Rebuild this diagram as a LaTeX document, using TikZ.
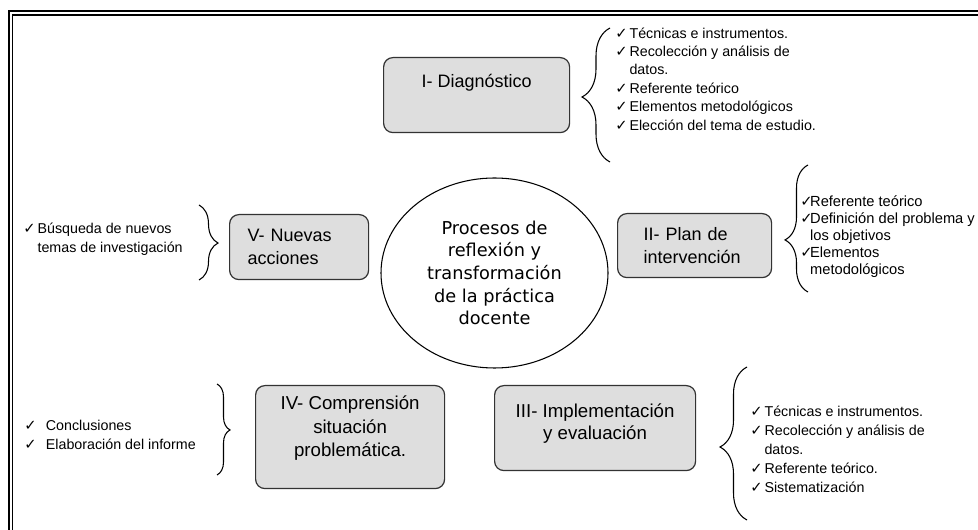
\documentclass[tikz,border=0pt]{standalone}
\usepackage{fontspec}
\setmainfont{Liberation Sans}
\newfontfamily\dejavu{DejaVu Sans}
\usetikzlibrary{shapes.geometric,decorations.pathreplacing}
\newcommand{\chk}[1][1.5pt]{{\dejavu\fontsize{11}{11}\selectfont ✓}\hspace{#1}}
\newcommand{\ind}[1][1.5pt]{\phantom{\chk[#1]}}
\tikzset{
  stage/.style={draw=black!80, line width=0.9pt, rounded corners=7pt, fill=black!13,
    inner sep=0pt, anchor=north west, font=\fontsize{13.5}{17}\selectfont},
  items/.style={anchor=west, align=left, inner sep=0pt, font=\fontsize{10.7}{13.9}\selectfont},
  curly/.style 2 args={decorate, decoration={brace, amplitude=#1, aspect=#2}, line width=0.8pt},
}

\begin{document}
\begin{tikzpicture}[x=0.75pt, y=-0.75pt]
\useasboundingbox (0,0) rectangle (978,530);
\clip (0,0) rectangle (978,530);
% double frame
\draw[line width=1.5pt] (9,11) rectangle (995,545);
\draw[line width=1pt] (12.5,15) rectangle (991,541);
% centre
\node [ellipse, draw, line width=0.8pt, minimum width=170.25pt, minimum height=142.5pt,
  inner sep=0pt, align=center, font=\dejavu\fontsize{13.3}{17}\selectfont]
  (centro) at (494.5,273) {Procesos de\\reflexión y\\transformación\\de la práctica\\docente};
% first stage
\node [stage, minimum width=139.5pt, text height=22.5pt, text depth=33.75pt]
  (diag) at (383,57) {I- Diagnóstico};
\coordinate (b1s) at (610,162);
\coordinate (b1e) at (610,28);
\draw [curly={21pt}{0.485}] (b1s) -- (b1e);
\node [items, font=\fontsize{10.7}{13.8}\selectfont] (ldiag) at (615,79)
  {\chk Técnicas e instrumentos.\\ \chk Recolección y análisis de\\ \ind datos.\\
   \chk Referente teórico\\ \chk Elementos metodológicos\\ \chk Elección del tema de estudio.};
% second stage
\node [stage, align=left, text width=76.5pt, inner xsep=19.5pt, minimum height=48pt]
  (plan) at (617,213) {II- Plan de\\intervención};
\coordinate (b2s) at (808,292);
\coordinate (b2e) at (808,165);
\draw [curly={17.25pt}{0.41}] (b2s) -- (b2e);
\node [items, font=\fontsize{11}{12.75}\selectfont] (lplan) at (800,237)
  {\chk[-1.8pt]Referente teórico\\ \chk[-1.8pt]Definición del problema y\\ \ind[-1.8pt]los objetivos\\
   \chk[-1.8pt]Elementos\\ \ind[-1.8pt]metodológicos};
% third stage
\node [stage, align=center, minimum width=150.75pt, text height=40.5pt, text depth=23.25pt,
  font=\fontsize{14}{16.5}\selectfont] (impl) at (494,385) {III- Implementación\\y evaluación};
\coordinate (b3s) at (747,520);
\coordinate (b3e) at (747,367);
\draw [curly={20.25pt}{0.477}] (b3s) -- (b3e);
\node [items, font=\fontsize{10.7}{14.25}\selectfont] (limpl) at (750,449)
  {\chk Técnicas e instrumentos.\\ \chk Recolección y análisis de\\ \ind datos.\\
   \chk Referente teórico.\\ \chk Sistematización};
% fourth stage
\node [stage, align=center, minimum width=141.75pt, text height=53.25pt, text depth=24pt,
  font=\fontsize{14}{17.6}\selectfont] (compr) at (255,385)
  {IV- Comprensión\\situación\\problemática.};
\coordinate (b4s) at (217,384);
\coordinate (b4e) at (217,475);
\draw [curly={9.75pt}{0.505}] (b4s) -- (b4e);
\node [items, font=\fontsize{10.7}{14.25}\selectfont] (lcompr) at (24,434.5)
  {\chk[7pt]Conclusiones\\ \chk[7pt]Elaboración del informe};
% fifth stage
\node [stage, align=left, text width=77.25pt, inner xsep=13.5pt, minimum height=48.75pt]
  (nuevas) at (229,214) {V- Nuevas\\acciones};
\coordinate (b5s) at (199,205);
\coordinate (b5e) at (199,280);
\draw [curly={14.25pt}{0.507}] (b5s) -- (b5e);
\node [items] (lnuevas) at (23,239)
  {\chk Búsqueda de nuevos\\ \ind temas de investigación};
\end{tikzpicture}
\end{document}
